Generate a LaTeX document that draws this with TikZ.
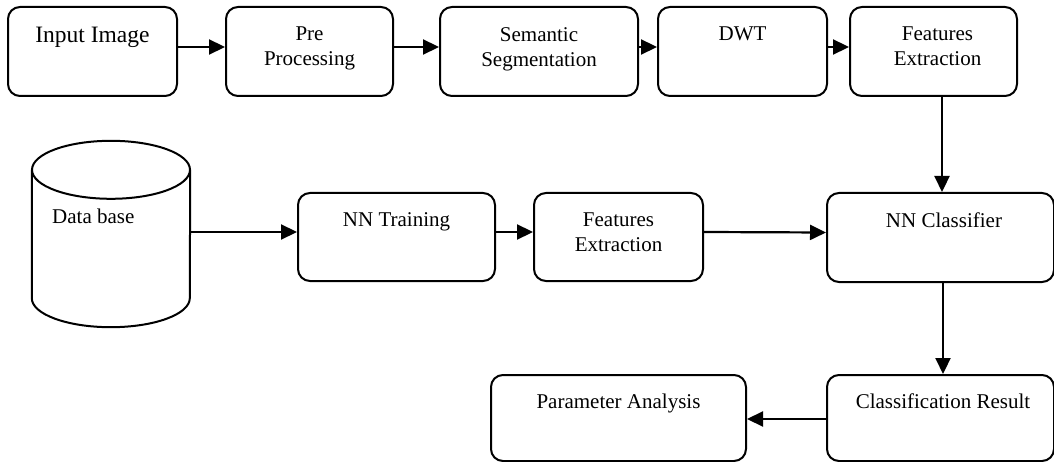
\documentclass[tikz,border=0pt]{standalone}
\usepackage{fontspec}
\setmainfont{Liberation Serif}
\usetikzlibrary{arrows.meta}

\tikzset{
  box/.style={draw, line width=2pt, rounded corners=12pt, inner sep=0pt,
              minimum width=#1},
  lbl/.style={anchor=north, inner sep=0pt, align=center,
              font=\fontsize{21}{25}\selectfont},
  flow/.style={line width=2.2pt, -{Triangle[length=16pt,width=15pt]}},
  body/.style={line width=2pt},
}

\begin{document}
\begin{tikzpicture}[x=1pt,y=1pt]
  \useasboundingbox (0,0) rectangle (1054,-462);

  % top row: image processing chain
  \node[box=169pt, minimum height=89pt] (in)  at (92.5,-51.5) {};
  \node[box=167pt, minimum height=89pt] (pre) at (309.5,-51.5) {};
  \node[box=198pt, minimum height=89pt] (sem) at (539,-51.5) {};
  \node[box=169pt, minimum height=89pt] (dwt) at (742.5,-51.5) {};
  \node[box=167pt, minimum height=89pt] (fe1) at (933.5,-51.5) {};

  \node[lbl, font=\fontsize{23.5}{28}\selectfont] (tin) at ([yshift=-21pt]in.north) {Input Image};
  \node[lbl] (tpre) at ([yshift=-21pt]pre.north) {Pre\\Processing};
  \node[lbl] (tsem) at ([yshift=-21pt]sem.north) {Semantic\\Segmentation};
  \node[lbl] (tdwt) at ([yshift=-21pt]dwt.north) {DWT};
  \node[lbl] (tfe1) at ([xshift=4pt,yshift=-21pt]fe1.north) {Features\\Extraction};

  % database cylinder
  \node[minimum width=158pt, minimum height=186pt, inner sep=0pt] (db) at (111,-234) {};
  \draw[body] ([yshift=-29pt]db.north west) -- ([yshift=29pt]db.south west)
        arc[start angle=180, end angle=360, x radius=79pt, y radius=29pt]
        -- ([yshift=-29pt]db.north east);
  \draw[body] ([yshift=-29pt]db.north) ellipse[x radius=79pt, y radius=29pt];
  \node[anchor=north west, inner sep=0pt, font=\fontsize{21}{25}\selectfont]
        (tdb) at (52,-209) {Data base};

  % middle row: training and classification
  \node[box=197pt, minimum height=88pt] (nnt) at (396.5,-237) {};
  \node[box=169pt, minimum height=88pt] (fe2) at (618.5,-237) {};
  \node[box=227pt, minimum height=89pt] (cls) at (940.5,-237.5) {};

  \node[lbl] (tnnt) at ([yshift=-20pt]nnt.north) {NN Training};
  \node[lbl] (tfe2) at ([yshift=-21pt]fe2.north) {Features\\Extraction};
  \node[lbl] (tcls) at ([xshift=3.5pt,yshift=-21pt]cls.north) {NN Classifier};

  % bottom row: results
  \node[box=227pt, minimum height=86pt] (res) at (940.5,-418) {};
  \node[box=255pt, minimum height=86pt] (par) at (618.5,-418) {};

  \node[lbl] (tres) at ([xshift=2.5pt,yshift=-19.5pt]res.north) {Classification Result};
  \node[lbl] (tpar) at ([yshift=-20pt]par.north) {Parameter Analysis};

  % connectors
  \draw[flow] ([yshift=4.5pt]in.east)  -- ([yshift=4.5pt]pre.west);
  \draw[flow] ([yshift=4.5pt]pre.east) -- ([yshift=4.5pt]sem.west);
  \draw[flow] ([yshift=4.5pt]sem.east) -- ([yshift=4.5pt]dwt.west);
  \draw[flow] ([yshift=4.5pt]dwt.east) -- ([yshift=4.5pt]fe1.west);

  \coordinate (v1) at (942,0);
  \coordinate (v2) at (943,0);
  \draw[flow] (fe1.south -| v1) -- (cls.north -| v1);

  \draw[flow] ([yshift=2pt]db.east)  -- ([yshift=5pt]nnt.west);
  \draw[flow] ([yshift=5pt]nnt.east) -- ([yshift=5pt]fe2.west);
  \draw[flow] ([yshift=5pt]fe2.east) -- ([yshift=5pt]cls.west);

  \draw[flow] (cls.south -| v2) -- (res.north -| v2);
  \draw[flow] ([yshift=-1pt]res.west) -- ([yshift=-1pt]par.east);
\end{tikzpicture}
\end{document}
